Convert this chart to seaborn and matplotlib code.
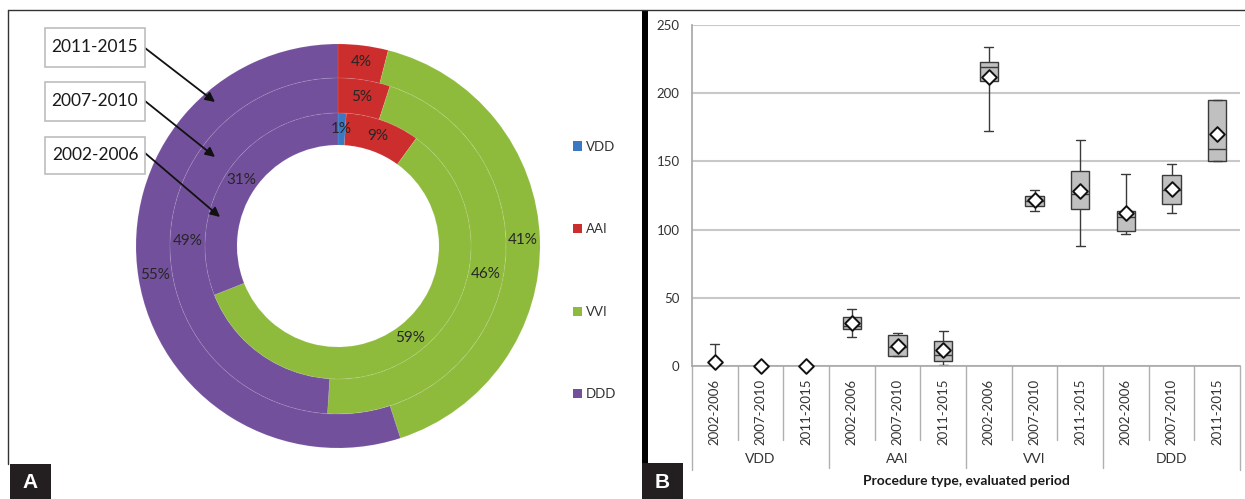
import numpy as np
import pandas as pd
import matplotlib
matplotlib.use("Agg")
import matplotlib.pyplot as plt
from matplotlib.patches import Patch, Rectangle
from matplotlib.lines import Line2D
import matplotlib.transforms as mtransforms
import seaborn as sns

# ---------------- data ----------------
types = ["VDD", "AAI", "VVI", "DDD"]
periods = ["2002-2006", "2007-2010", "2011-2015"]
type_colors = ["#3a78c4", "#cc2d2d", "#8fbb3d", "#73509c"]

# share of implanted device types (%), one list per period
share_2002_2006 = [1, 9, 59, 31]
share_2007_2010 = [0, 5, 46, 49]
share_2011_2015 = [0, 4, 41, 55]

# procedure counts: min, Q1, median, Q3, max per type/period
vdd_summary = [[0, 0, 0, 0, 16], [0, 0, 0, 0, 0], [0, 0, 0, 0, 0]]
aai_summary = [[21, 27, 29, 36, 42], [7, 7, 14, 23, 24], [1, 4, 8, 18, 26]]
vvi_summary = [[172, 209, 219, 223, 234], [114, 117, 121, 125, 129], [88, 115, 126, 143, 166]]
ddd_summary = [[97, 99, 109, 114, 141], [112, 119, 129, 140, 148], [150, 150, 159, 195, 195]]

# mean number of procedures
vdd_mean = [3, 0, 0]
aai_mean = [31.5, 14.5, 11.5]
vvi_mean = [212, 121.5, 128]
ddd_mean = [112, 129.5, 170]

y_ticks = [0, 50, 100, 150, 200, 250]
x_title = "Procedure type, evaluated period"

# ---------------- setup ----------------
W, H = 1245, 499
sns.set_theme(style="white")
plt.rcParams["font.family"] = ["Lato", "DejaVu Sans"]
fig = plt.figure(figsize=(W / 100, H / 100), dpi=100)
fig.patch.set_facecolor("white")


def fx(px):
    return px / W


def fy(py):
    return 1 - py / H


# ---------------- panel A: donut ----------------
cx, cy, half = 338, 246, 220
r_out = 202.0
axA = fig.add_axes([fx(cx - half), fy(cy + half), 2 * half / W, 2 * half / H])
rings = [
    (share_2011_2015, 202, 168),
    (share_2007_2010, 168, 133),
    (share_2002_2006, 133, 101),
]
for values, r1, r2 in rings:
    r = r1 / r_out
    w = (r1 - r2) / r_out
    mid = (r1 + r2) / 2 / r_out
    axA.pie(
        values,
        radius=r,
        colors=type_colors,
        startangle=90,
        counterclock=False,
        autopct=lambda p: f"{p:.0f}%" if p > 0.5 else "",
        pctdistance=mid / r,
        wedgeprops=dict(width=w, edgecolor=(1, 1, 1, 0.07), linewidth=0.8),
        textprops=dict(fontsize=11, color="#262626"),
    )
lim = half / r_out
axA.set_xlim(-lim, lim)
axA.set_ylim(-lim, lim)
axA.set_aspect("equal")
axA.axis("off")

# period call-outs
boxes = [(28, 67, (145, 48), (215, 102)),
         (82, 121, (145, 101), (215, 157)),
         (137, 174, (145, 153), (220, 217))]
for (top, bot, tail, head), period in zip(boxes, periods[::-1]):
    fig.patches.append(Rectangle((fx(45), fy(bot)), fx(145) - fx(45), fy(top) - fy(bot),
                                 transform=fig.transFigure, facecolor="white",
                                 edgecolor="#bdbdbd", linewidth=1.2))
    fig.text(fx(95), fy((top + bot) / 2), period, ha="center", va="center",
             fontsize=12.5, color="#1a1a1a")
    fig.add_artist(matplotlib.patches.FancyArrowPatch(
        (fx(tail[0]), fy(tail[1])), (fx(head[0]), fy(head[1])),
        transform=fig.transFigure, arrowstyle="-|>", mutation_scale=14,
        color="#111111", linewidth=1.3, shrinkA=0, shrinkB=0))

handles = [Patch(facecolor=c, edgecolor="none") for c in type_colors]
fig.legend(handles, types, loc="upper left", bbox_to_anchor=(fx(566), fy(134)),
           frameon=False, fontsize=9.5, handlelength=0.7, handleheight=0.7,
           handletextpad=0.3, labelspacing=5.35, borderpad=0, labelcolor="#333333")

# ---------------- panel B: box plots ----------------
summaries = [vdd_summary, aai_summary, vvi_summary, ddd_summary]
means = [vdd_mean, aai_mean, vvi_mean, ddd_mean]
rows, mean_rows, order = [], [], []
for t, summ, mns in zip(types, summaries, means):
    for p, s, m in zip(periods, summ, mns):
        key = f"{t} {p}"
        order.append(key)
        rows += [{"group": key, "count": v} for v in s]
        mean_rows.append({"group": key, "count": m})
box_df = pd.DataFrame(rows)
mean_df = pd.DataFrame(mean_rows)

ax_left, ax_right, ax_top, ax_bot = 692, 1240, 25, 366
axB = fig.add_axes([fx(ax_left), fy(ax_bot), (ax_right - ax_left) / W, (ax_bot - ax_top) / H])
sns.boxplot(data=box_df, x="group", y="count", order=order, ax=axB,
            whis=(0, 100), showfliers=False, width=0.4, color="#c0c0c0",
            saturation=1, linecolor="#3a3a3a", linewidth=1.0)
sns.stripplot(data=mean_df, x="group", y="count", order=order, ax=axB,
              jitter=False, marker="D", size=7.5, color="white",
              edgecolor="#111111", linewidth=1.4, zorder=5)
for coll in axB.collections:
    coll.set_clip_on(False)

axB.set_xlim(-0.5, len(order) - 0.5)
axB.set_ylim(0, 250)
axB.set_yticks(y_ticks)
axB.yaxis.grid(True, color="#c8c8c8", linewidth=1.5)
axB.set_axisbelow(True)
for side in ["top", "right"]:
    axB.spines[side].set_visible(False)
axB.spines["left"].set_color("#a8a8a8")
axB.spines["bottom"].set_color("#a8a8a8")
axB.spines["bottom"].set_linewidth(1.2)
axB.tick_params(axis="y", length=0, pad=9, labelsize=9.5, labelcolor="#333333")
axB.set_xticks(range(len(order)))
axB.set_xticklabels(periods * len(types), rotation=90, va="top", ha="center")
axB.tick_params(axis="x", length=0, pad=9, labelsize=9.5, labelcolor="#333333")
axB.set_xlabel("")
axB.set_ylabel("")

trans = mtransforms.blended_transform_factory(axB.transData, axB.transAxes)
ah = ax_bot - ax_top
for i in range(len(order) + 1):
    xpos = i - 0.5
    if i % 3 == 0:
        y_end = (ax_bot - 468) / ah if 0 < i < len(order) else (ax_bot - 470) / ah
    else:
        y_end = (ax_bot - 440) / ah
    axB.add_line(Line2D([xpos, xpos], [0, y_end], transform=trans,
                        color="#b0b0b0", linewidth=1.0, clip_on=False))
for k, t in enumerate(types):
    axB.text(3 * k + 1, (ax_bot - 459) / ah, t, transform=trans, ha="center",
             va="center", fontsize=10, color="#333333")
fig.text(fx((ax_left + ax_right) / 2), fy(481), x_title, ha="center", va="center",
         fontsize=10, fontweight="bold", color="#1a1a1a")

# ---------------- panel frames and letters ----------------
fig.add_artist(Line2D([fx(8), fx(1245)], [fy(10), fy(10)], transform=fig.transFigure,
                      color="#333333", linewidth=1.0))
fig.add_artist(Line2D([fx(8), fx(8)], [fy(10), fy(464)], transform=fig.transFigure,
                      color="#333333", linewidth=1.0))
fig.patches.append(Rectangle((fx(642), fy(463)), fx(648) - fx(642), fy(10) - fy(463),
                             transform=fig.transFigure, facecolor="black", edgecolor="none"))
for letter, x0, x1, y0 in [("A", 10, 51, 464), ("B", 642, 683, 463)]:
    fig.patches.append(Rectangle((fx(x0), fy(499)), fx(x1) - fx(x0), fy(y0) - fy(499),
                                 transform=fig.transFigure, facecolor="#231f20",
                                 edgecolor="none"))
    fig.text(fx((x0 + x1) / 2), fy((y0 + 499) / 2 + 1), letter, ha="center", va="center",
             fontsize=15, fontweight="bold", color="white",
             family=["Liberation Sans", "DejaVu Sans"])

fig.savefig("out.png", dpi=100, facecolor="white")
